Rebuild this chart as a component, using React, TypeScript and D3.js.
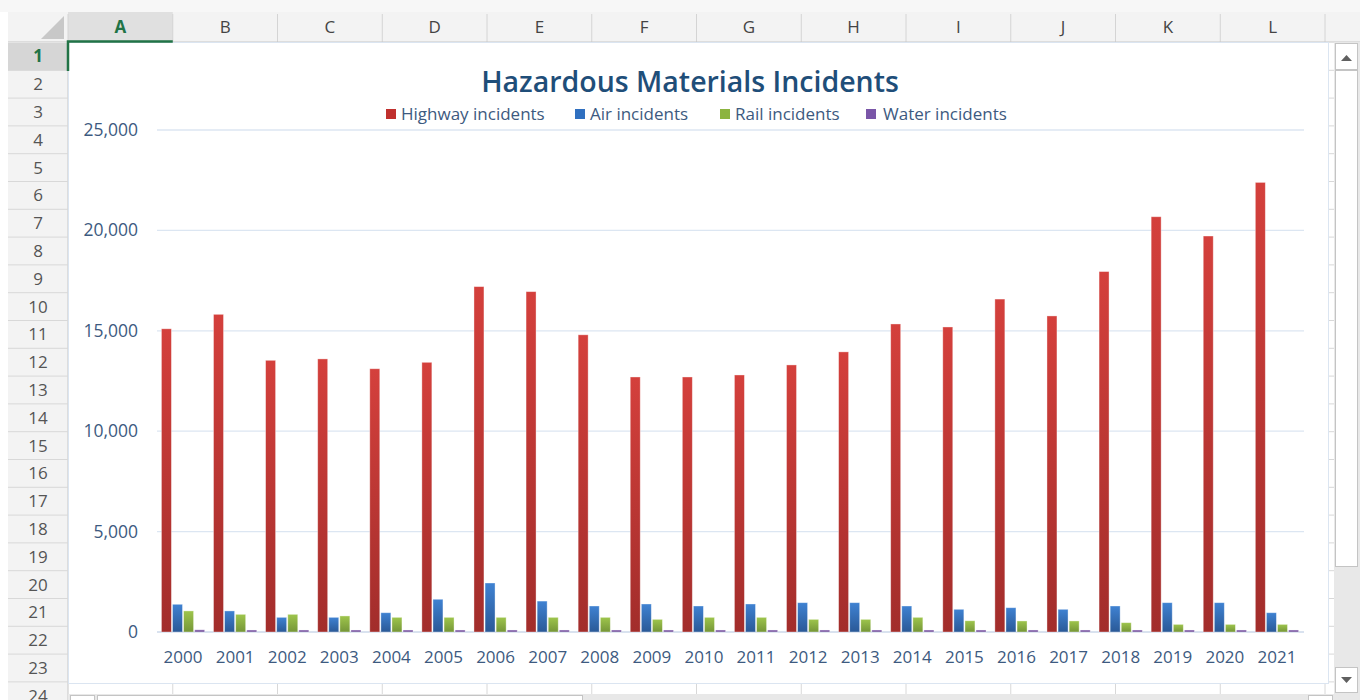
import React from "react";
import * as d3 from "d3";

const years = ["2000","2001","2002","2003","2004","2005","2006","2007","2008","2009","2010","2011","2012","2013","2014","2015","2016","2017","2018","2019","2020","2021"];
const highway = [15100, 15820, 13530, 13600, 13110, 13430, 17200, 16950, 14800, 12700, 12700, 12800, 13300, 13950, 15340, 15190, 16580, 15740, 17950, 20680, 19720, 22390];
const air = [1380, 1050, 730, 730, 960, 1630, 2440, 1540, 1295, 1395, 1295, 1395, 1460, 1460, 1295, 1130, 1210, 1130, 1295, 1460, 1460, 960];
const rail = [1050, 880, 880, 800, 730, 730, 730, 730, 730, 630, 730, 730, 630, 630, 730, 560, 550, 550, 465, 380, 380, 380];
const water = [110, 100, 100, 100, 100, 100, 100, 100, 100, 100, 100, 100, 100, 100, 100, 100, 100, 100, 100, 100, 100, 100];
const seriesNames = ["Highway incidents", "Air incidents", "Rail incidents", "Water incidents"];
const yTicks = [0, 5000, 10000, 15000, 20000, 25000];
const columnLetters = ["A","B","C","D","E","F","G","H","I","J","K","L"];

const seriesValues = [highway, air, rail, water];
const gradStops = [
  ["#d4403c", "#a22d2b"],
  ["#3f82d2", "#2a5997"],
  ["#9ec54c", "#759638"],
  ["#8763b0", "#6d4d96"],
];
const legendColors = ["#c0302e", "#3070c0", "#8cb440", "#7a56a8"];

const FONT = "'Open Sans', 'Noto Sans', sans-serif";
const TEXT = "#3d5a80";

export default function App() {
  const W = 1360, H = 700;
  const x = d3.scaleBand<string>().domain(years).range([157, 1303]).paddingInner(0.17).paddingOuter(0.085);
  const inner = d3.scaleBand<number>().domain([0, 1, 2, 3]).range([0, x.bandwidth()]).paddingInner(0.1);
  const y = d3.scaleLinear().domain([0, 25000]).range([632, 130]);
  const fmt = d3.format(",");

  const colX = d3.scaleLinear().domain([0, 12]).range([68, 1325]);
  const rowY = d3.scaleLinear().domain([0, 24]).range([42.5, 42.5 + 24 * 27.8]);
  const rows = d3.range(1, 25);

  const legendItems = [
    { sx: 386, tx: 401 },
    { sx: 575, tx: 590 },
    { sx: 720, tx: 735 },
    { sx: 866, tx: 883 },
  ];

  return (
    <div style={{ position: "absolute", left: 0, top: 0 }}>
      <svg width={W} height={H} style={{ display: "block" }}>
        <defs>
          {gradStops.map((g, i) => (
            <linearGradient key={i} id={`g${i}`} x1="0" y1="0" x2="0" y2="1">
              <stop offset="0%" stopColor={g[0]} />
              <stop offset="100%" stopColor={g[1]} />
            </linearGradient>
          ))}
        </defs>
        <rect x={0} y={0} width={W} height={H} fill="#ffffff" />
        {/* top strip */}
        <rect x={0} y={0} width={W} height={12} fill="#f7f7f7" />
        {/* column header */}
        <rect x={8} y={12} width={W - 8} height={30} fill="#f3f3f3" />
        <rect x={68} y={12} width={colX(1) - 68} height={30} fill="#e0e0e0" />
        {/* corner triangle */}
        <rect x={8} y={12} width={60} height={30} fill="#f3f3f3" />
        <polygon points="64,16 64,39 41,39" fill="#c8c8c8" />
        {d3.range(0, 13).map((i) => (
          <line key={"cl" + i} x1={colX(i)} x2={colX(i)} y1={14} y2={42} stroke="#d4d4d4" />
        ))}
        <line x1={8} x2={W} y1={42} y2={42} stroke="#c6c6c6" />
        {columnLetters.map((c, i) => (
          <text key={c} x={(colX(i) + colX(i + 1)) / 2} y={33} textAnchor="middle"
            fontFamily={FONT} fontSize={17} fontWeight={i === 0 ? 700 : 400}
            fill={i === 0 ? "#217346" : "#444"}>{c}</text>
        ))}
        {/* row header */}
        <rect x={8} y={42} width={60} height={H - 42} fill="#f3f3f3" />
        <rect x={8} y={rowY(0)} width={60} height={rowY(1) - rowY(0)} fill="#d6d6d6" />
        <line x1={68} x2={68} y1={42} y2={H} stroke="#c6c6c6" />
        {rows.map((r) => (
          <g key={"r" + r}>
            <line x1={8} x2={68} y1={rowY(r)} y2={rowY(r)} stroke="#d8d8d8" />
            <text x={38} y={(rowY(r - 1) + rowY(r)) / 2 + 6} textAnchor="middle"
              fontFamily={FONT} fontSize={17} fontWeight={r === 1 ? 700 : 400}
              fill={r === 1 ? "#217346" : "#555"}>{r}</text>
          </g>
        ))}
        {/* cell grid to the right of chart */}
        {rows.map((r) => (
          <line key={"rr" + r} x1={1328} x2={1335} y1={rowY(r)} y2={rowY(r)} stroke="#d8d8d8" />
        ))}
        {/* below chart cell grid */}
        {d3.range(1, 13).map((i) => (
          <line key={"bl" + i} x1={colX(i)} x2={colX(i)} y1={684} y2={694} stroke="#d8d8d8" />
        ))}
        {/* chart area */}
        <rect x={68.5} y={42.5} width={1260} height={641} fill="#ffffff" stroke="#dbe5f1" />
        {/* selection border */}
        <path d={`M68,71 L68,41.5 L${colX(1)},41.5`} fill="none" stroke="#217346" strokeWidth={2.5} />

        {/* title */}
        <text x={690} y={92} textAnchor="middle" fontFamily={FONT} fontSize={28.5} fontWeight={600} fill="#1f4e79">
          Hazardous Materials Incidents
        </text>
        {/* legend */}
        {seriesNames.map((n, i) => (
          <g key={n}>
            <rect x={legendItems[i].sx} y={109} width={10} height={10} fill={legendColors[i]} />
            <text x={legendItems[i].tx} y={120} fontFamily={FONT} fontSize={17} fill={TEXT}>{n}</text>
          </g>
        ))}
        {/* gridlines and y labels */}
        {yTicks.map((t) => (
          <g key={t}>
            <line x1={157} x2={1304} y1={y(t)} y2={y(t)} stroke={t === 0 ? "#ccd9ea" : "#dce6f2"} strokeWidth={1.3} />
            <text x={138} y={y(t) + 6} textAnchor="end" fontFamily={FONT} fontSize={17.5} fill={TEXT}>{fmt(t)}</text>
          </g>
        ))}
        {/* bars */}
        {years.map((yr, j) => (
          <g key={yr} transform={`translate(${x(yr)},0)`}>
            {seriesValues.map((vals, s) => {
              const v = vals[j];
              return (
                <rect key={s} x={inner(s)} y={y(v)} width={inner.bandwidth()} height={y(0) - y(v)}
                  fill={`url(#g${s})`} stroke="rgba(255,255,255,0.45)" strokeWidth={0.8} />
              );
            })}
            <text x={x.bandwidth() / 2} y={663} textAnchor="middle" fontFamily={FONT} fontSize={17} fill={TEXT}>{yr}</text>
          </g>
        ))}

        {/* vertical scrollbar */}
        <rect x={1334} y={42} width={26} height={H - 42} fill="#e8e8e8" />
        <rect x={1335.5} y={43.5} width={22} height={26} fill="#fff" stroke="#c4c4c4" />
        <polygon points="1341,61 1352,61 1346.5,55" fill="#606060" />
        <rect x={1335.5} y={70.5} width={22} height={496} fill="#fff" stroke="#c4c4c4" />
        <rect x={1335.5} y={667.5} width={22} height={25} fill="#fff" stroke="#c4c4c4" />
        <polygon points="1341,677 1352,677 1346.5,683" fill="#606060" />
        {/* bottom strip */}
        <rect x={68} y={694} width={1266} height={6} fill="#e8e8e8" />
        <rect x={70.5} y={695.5} width={24} height={8} fill="#fff" stroke="#c4c4c4" />
        <rect x={97.5} y={695.5} width={485} height={8} fill="#fff" stroke="#c4c4c4" />
        <rect x={1308.5} y={695.5} width={24} height={8} fill="#fff" stroke="#c4c4c4" />
      </svg>
    </div>
  );
}
